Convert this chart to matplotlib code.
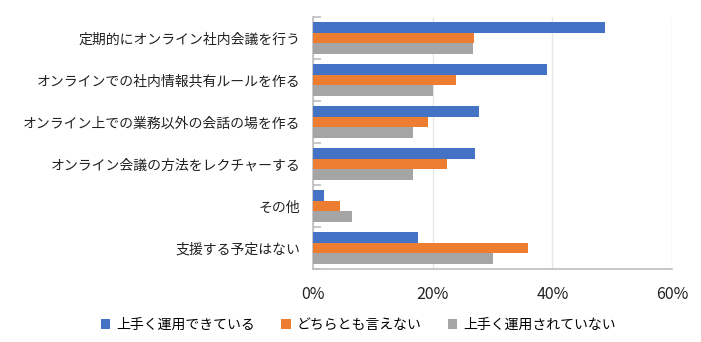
import numpy as np
import matplotlib.pyplot as plt
from matplotlib.ticker import FuncFormatter

plt.rcParams['font.family'] = ['Noto Sans CJK JP', 'DejaVu Sans']

categories = [
    '定期的にオンライン社内会議を行う',
    'オンラインでの社内情報共有ルールを作る',
    'オンライン上での業務以外の会話の場を作る',
    'オンライン会議の方法をレクチャーする',
    'その他',
    '支援する予定はない',
]
series_names = ['上手く運用できている', 'どちらとも言えない', '上手く運用されていない']
good = [48.8, 39.1, 27.7, 27.0, 1.8, 17.5]
neutral = [26.9, 23.9, 19.3, 22.4, 4.5, 35.9]
bad = [26.7, 20.0, 16.7, 16.7, 6.6, 30.0]
colors = ['#4472C4', '#ED7D31', '#A5A5A5']
xticks = [0, 20, 40, 60]

fig = plt.figure(figsize=(7.01, 3.42), dpi=100)
ax = fig.add_axes([313 / 701, 1 - 269 / 342, 359 / 701, 252 / 342])

y = np.arange(len(categories))
h = 0.254
for i, (vals, name, c) in enumerate(zip([good, neutral, bad], series_names, colors)):
    ax.barh(y + (i - 1) * h, vals, height=h, color=c, label=name, zorder=3)

ax.set_xlim(0, 60)
ax.set_ylim(len(categories) - 0.5, -0.5)
ax.set_xticks(xticks)
ax.xaxis.set_major_formatter(FuncFormatter(lambda v, p: f'{v:.0f}%'))
ax.set_yticks(y)
ax.set_yticklabels(categories, fontsize=10, color='#222222')
ax.set_yticks(np.arange(len(categories) + 1) - 0.5, minor=True)
ax.tick_params(axis='y', which='major', length=0, pad=9)
ax.tick_params(axis='y', which='minor', direction='in', length=6, color='#BFBFBF', width=1.2)
ax.tick_params(axis='x', length=0, labelsize=11.5, pad=12, colors='#222222')
ax.grid(axis='x', color='#E6E6E6', linewidth=1, zorder=0)

for s in ['top', 'right']:
    ax.spines[s].set_visible(False)
ax.spines['left'].set_color('#BFBFBF')
ax.spines['bottom'].set_color('#BFBFBF')
ax.spines['left'].set_linewidth(1.2)
ax.spines['bottom'].set_linewidth(1.2)

fig.legend(loc='center', bbox_to_anchor=(358 / 701, 1 - 325 / 342), ncol=3, frameon=False,
           fontsize=10, handlelength=0.7, handleheight=0.7, handletextpad=0.4,
           columnspacing=1.9)

fig.savefig('out.png', dpi=100)
